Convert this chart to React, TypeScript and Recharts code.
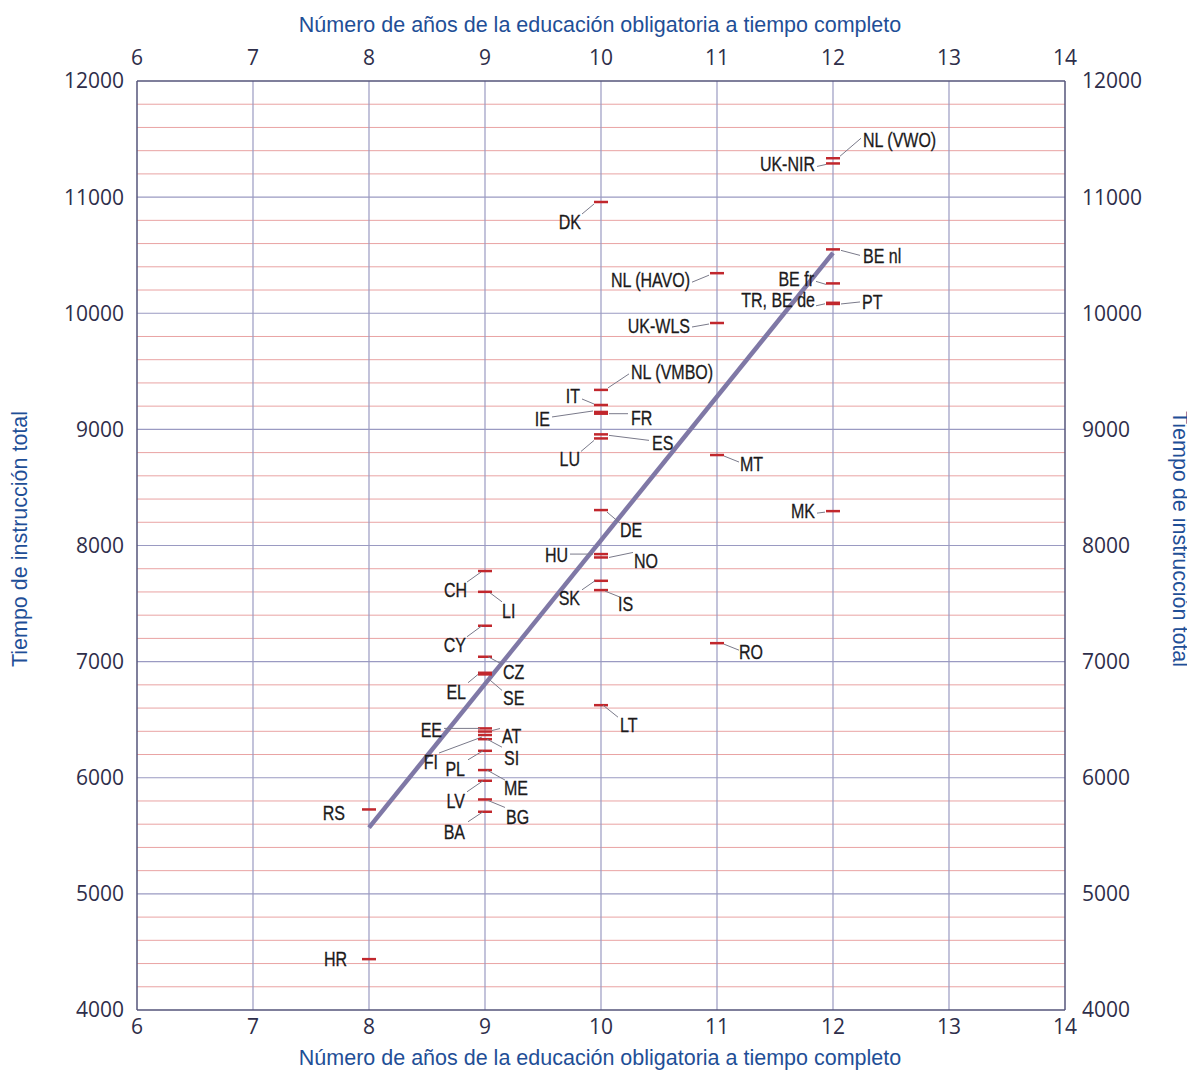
import React from 'react';
import { ComposedChart, Scatter, XAxis, YAxis, ReferenceLine } from 'recharts';

// ---- data ----
const countries = [
  'NL (VWO)', 'UK-NIR', 'DK', 'BE nl', 'NL (HAVO)', 'BE fr', 'TR, BE de', 'PT', 'UK-WLS',
  'NL (VMBO)', 'IT', 'IE', 'FR', 'ES', 'LU', 'MT', 'MK', 'DE', 'HU', 'NO', 'SK', 'IS',
  'CH', 'LI', 'CY', 'CZ', 'EL', 'SE', 'LT', 'EE', 'AT', 'FI', 'SI', 'PL', 'ME', 'LV',
  'BG', 'BA', 'RS', 'RO', 'HR',
];
const years = [
  12, 12, 10, 12, 11, 12, 12, 12, 11,
  10, 10, 10, 10, 10, 10, 11, 12, 10, 10, 10, 10, 10,
  9, 9, 9, 9, 9, 9, 10, 9, 9, 9, 9, 9, 9, 9,
  9, 9, 8, 11, 8,
];
const hours = [
  11335, 11290, 10958, 10550, 10345, 10257, 10090, 10080, 9916,
  9340, 9210, 9150, 9135, 8957, 8922, 8779, 8296, 8305, 7926, 7897, 7696, 7616,
  7780, 7601, 7309, 7042, 6904, 6890, 6625, 6425, 6398, 6368, 6332, 6232, 6066, 5974,
  5813, 5707, 5727, 7159, 4438,
];
const xTicks = [6, 7, 8, 9, 10, 11, 12, 13, 14];
const yTicks = [4000, 5000, 6000, 7000, 8000, 9000, 10000, 11000, 12000];
const trendStart = { x: 8, y: 5570 };
const trendEnd = { x: 12, y: 10520 };

const points = countries.map((name, i) => ({ name, x: years[i], y: hours[i] }));

// ---- label layout (pixel offsets relative to the point) ----
type Lab = { a: 'start' | 'end'; dx: number; dy: number; l?: [number, number, number, number] };
const labelLayout: Record<string, Lab> = {
  'NL (VWO)': { a: 'start', dx: 30, dy: -18, l: [7, -2, 28, -20] },
  'UK-NIR': { a: 'end', dx: -18, dy: 1, l: [-7, 1, -16, 3] },
  'DK': { a: 'end', dx: -20, dy: 20, l: [-7, 2, -19, 12] },
  'BE nl': { a: 'start', dx: 30, dy: 7, l: [8, 1, 27, 6] },
  'NL (HAVO)': { a: 'end', dx: -27, dy: 7, l: [-8, 2, -25, 9] },
  'BE fr': { a: 'end', dx: -19, dy: -4, l: [-17, -2, -7, 1] },
  'TR, BE de': { a: 'end', dx: -18, dy: -2, l: [-17, 3, -8, 1] },
  'PT': { a: 'start', dx: 29, dy: -2, l: [8, 0, 27, -2] },
  'UK-WLS': { a: 'end', dx: -27, dy: 3, l: [-8, 1, -25, 4] },
  'NL (VMBO)': { a: 'start', dx: 30, dy: -18, l: [7, -2, 28, -16] },
  'IT': { a: 'end', dx: -21, dy: -9, l: [-19, -6, -7, -1] },
  'IE': { a: 'end', dx: -51, dy: 7, l: [-49, 5, -8, -1] },
  'FR': { a: 'start', dx: 30, dy: 5, l: [8, 0, 27, 0] },
  'ES': { a: 'start', dx: 51, dy: 9, l: [8, 1, 48, 6] },
  'LU': { a: 'end', dx: -21, dy: 21, l: [-7, 2, -20, 13] },
  'MT': { a: 'start', dx: 23, dy: 9, l: [7, 1, 22, 7] },
  'MK': { a: 'end', dx: -18, dy: 0, l: [-8, 1, -16, 2] },
  'DE': { a: 'start', dx: 19, dy: 20, l: [6, 2, 19, 13] },
  'HU': { a: 'end', dx: -33, dy: 1, l: [-8, 0, -31, 0] },
  'NO': { a: 'start', dx: 33, dy: 4, l: [8, 0, 32, -5] },
  'SK': { a: 'end', dx: -21, dy: 18, l: [-6, 0, -19, 9] },
  'IS': { a: 'start', dx: 17, dy: 14, l: [4, 1, 19, 7] },
  'CH': { a: 'end', dx: -18, dy: 19, l: [-4, 1, -18, 11] },
  'LI': { a: 'start', dx: 17, dy: 20, l: [5, 1, 17, 10] },
  'CY': { a: 'end', dx: -19, dy: 20, l: [-3, 0, -18, 11] },
  'CZ': { a: 'start', dx: 18, dy: 16, l: [3, 0, 18, 8] },
  'EL': { a: 'end', dx: -19, dy: 20, l: [-5, 0, -17, 10] },
  'SE': { a: 'start', dx: 18, dy: 24, l: [3, 4, 17, 16] },
  'LT': { a: 'start', dx: 19, dy: 20, l: [2, 0, 17, 12] },
  'EE': { a: 'end', dx: -43, dy: 2, l: [-41, 0, -5, 0] },
  'AT': { a: 'start', dx: 17, dy: 5, l: [7, -1, 15, -3] },
  'FI': { a: 'end', dx: -47, dy: 27, l: [-46, 18, -3, 2] },
  'SI': { a: 'start', dx: 19, dy: 19, l: [2, 0, 17, 8] },
  'PL': { a: 'end', dx: -20, dy: 19, l: [-2, 0, -17, 9] },
  'ME': { a: 'start', dx: 19, dy: 18, l: [2, 0, 20, 10] },
  'LV': { a: 'end', dx: -20, dy: 21, l: [-2, 0, -18, 11] },
  'BG': { a: 'start', dx: 21, dy: 18, l: [3, 1, 20, 8] },
  'BA': { a: 'end', dx: -20, dy: 21, l: [-2, 0, -17, 10] },
  'RS': { a: 'end', dx: -24, dy: 4 },
  'RO': { a: 'start', dx: 22, dy: 9, l: [7, 1, 22, 7] },
  'HR': { a: 'end', dx: -22, dy: 0 },
};

const minorGrid: number[] = [];
for (let v = 4200; v < 12000; v += 200) if (v % 1000 !== 0) minorGrid.push(v);

const LABEL_FONT = "'Liberation Sans', Arial, sans-serif";
const TICK_FONT = "'Open Sans', 'Liberation Sans', sans-serif";
const TITLE_FONT = "'Liberation Sans', Arial, sans-serif";
const TITLE_COLOR = '#1f4f97';

const PointShape = (props: any) => {
  const { cx, cy, payload } = props;
  if (cx == null || cy == null) return null;
  const lab = labelLayout[payload.name];
  return (
    <g>
      <line x1={cx - 7} x2={cx + 7} y1={cy} y2={cy} stroke="#c1272d" strokeWidth={2.5} />
      {lab && lab.l && (
        <line
          x1={cx + lab.l[0]}
          y1={cy + lab.l[1]}
          x2={cx + lab.l[2]}
          y2={cy + lab.l[3]}
          stroke="#7a7a8a"
          strokeWidth={1}
        />
      )}
      {lab && (
        <g transform={`translate(${cx + lab.dx},${cy + lab.dy}) scale(0.8,1)`}>
          <text
            x={0}
            y={0}
            textAnchor={lab.a}
            dominantBaseline="central"
            fontFamily={LABEL_FONT}
            fontSize={20}
            fill="#1c1a1b"
            stroke="#1c1a1b"
            strokeWidth={0.3}
          >
            {payload.name}
          </text>
        </g>
      )}
    </g>
  );
};

const NoShape = () => null;

export default function App() {
  const W = 1180;
  const H = 1054;
  const tickStyle = { fill: '#2e2e4a', fontSize: 21, fontFamily: TICK_FONT };
  const titleStyle: React.CSSProperties = {
    fontFamily: TITLE_FONT, fontSize: 21.5, lineHeight: '22px', color: TITLE_COLOR, whiteSpace: 'nowrap',
  };
  return (
    <div style={{ position: 'relative', width: 1187, height: 1062, overflow: 'hidden' }}>
      <style>{'html,body{overflow:hidden;}'}</style>
      <ComposedChart
        width={W}
        height={H}
        margin={{ top: 43, right: 63, bottom: 22, left: 69 }}
      >
        <XAxis
          xAxisId="bottom"
          type="number"
          dataKey="x"
          domain={[6, 14]}
          ticks={xTicks}
          orientation="bottom"
          height={30}
          tickLine={false}
          tickSize={0}
          tickMargin={9}
          axisLine={{ stroke: '#55557a', strokeWidth: 1.5 }}
          tick={tickStyle}
          interval={0}
        />
        <XAxis
          xAxisId="top"
          type="number"
          dataKey="x"
          domain={[6, 14]}
          ticks={xTicks}
          orientation="top"
          height={30}
          tickLine={false}
          tickSize={0}
          tickMargin={16}
          axisLine={{ stroke: '#55557a', strokeWidth: 1.5 }}
          tick={tickStyle}
          interval={0}
        />
        <YAxis
          yAxisId="left"
          type="number"
          dataKey="y"
          domain={[4000, 12000]}
          ticks={yTicks}
          orientation="left"
          width={60}
          tickLine={false}
          tickSize={0}
          tickMargin={13}
          axisLine={{ stroke: '#55557a', strokeWidth: 1.5 }}
          tick={tickStyle}
          interval={0}
        />
        <YAxis
          yAxisId="right"
          type="number"
          dataKey="y"
          domain={[4000, 12000]}
          ticks={yTicks}
          orientation="right"
          width={60}
          tickLine={false}
          tickSize={0}
          tickMargin={17}
          axisLine={{ stroke: '#55557a', strokeWidth: 1.5 }}
          tick={tickStyle}
          interval={0}
        />
        {minorGrid.map((v) => (
          <ReferenceLine key={'m' + v} xAxisId="bottom" yAxisId="left" y={v} stroke="#e9a3a3" strokeWidth={1} />
        ))}
        {yTicks.slice(1, -1).map((v) => (
          <ReferenceLine key={'M' + v} xAxisId="bottom" yAxisId="left" y={v} stroke="#9a9ac2" strokeWidth={1.2} />
        ))}
        {xTicks.slice(1, -1).map((v) => (
          <ReferenceLine key={'v' + v} xAxisId="bottom" yAxisId="left" x={v} stroke="#9a9ac2" strokeWidth={1.2} />
        ))}
        <ReferenceLine
          xAxisId="bottom"
          yAxisId="left"
          segment={[trendStart, trendEnd]}
          stroke="#7f78a6"
          strokeWidth={4.5}
        />
        <Scatter
          xAxisId="top"
          yAxisId="right"
          data={points}
          shape={<NoShape />}
          isAnimationActive={false}
        />
        <Scatter
          xAxisId="bottom"
          yAxisId="left"
          data={points}
          shape={<PointShape />}
          isAnimationActive={false}
        />
      </ComposedChart>
      <div style={{ position: 'absolute', left: 0, width: 1184, top: 6, textAlign: 'center', ...titleStyle }}>
        Número de años de la educación obligatoria a tiempo completo
      </div>
      <div style={{ position: 'absolute', left: 0, width: 1184, top: 1039, textAlign: 'center', ...titleStyle }}>
        Número de años de la educación obligatoria a tiempo completo
      </div>
      <div style={{ position: 'absolute', left: 12, top: 531, width: 0, height: 0 }}>
        <div style={{ position: 'absolute', transform: 'translate(-50%, -50%) rotate(-90deg)', ...titleStyle }}>
          Tiempo de instrucción total
        </div>
      </div>
      <div style={{ position: 'absolute', left: 1172, top: 531, width: 0, height: 0 }}>
        <div style={{ position: 'absolute', transform: 'translate(-50%, -50%) rotate(90deg)', ...titleStyle }}>
          Tiempo de instrucción total
        </div>
      </div>
    </div>
  );
}
